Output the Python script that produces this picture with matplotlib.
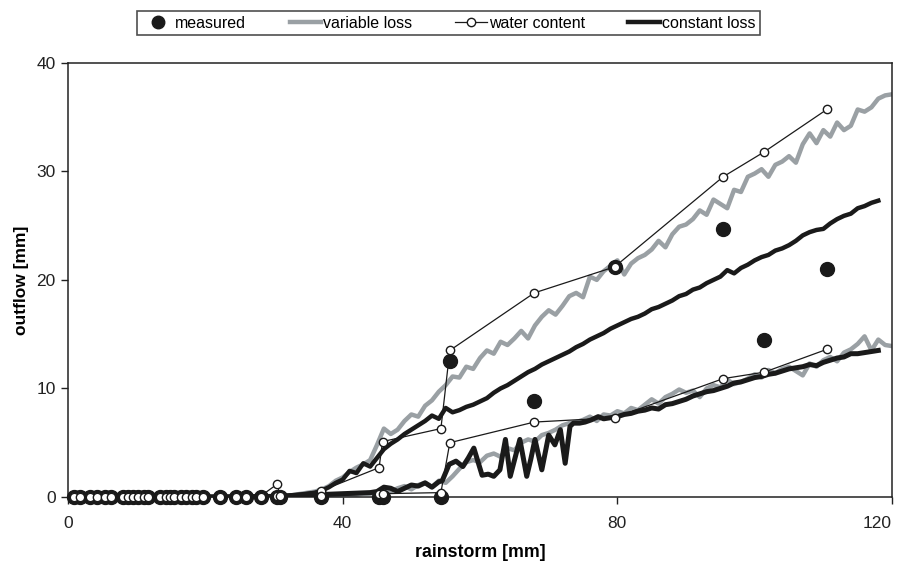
import numpy as np
import matplotlib
matplotlib.use("Agg")
import matplotlib.pyplot as plt
from matplotlib.lines import Line2D

plt.rcParams["font.family"] = ["Liberation Sans", "DejaVu Sans"]

# storms with zero measured outflow (rainstorm [mm])
rain_zero = [0.8, 1.8, 3.2, 4.2, 5.4, 6.3, 8.0, 8.8, 9.5, 10.2, 11.0, 11.7,
             13.4, 14.2, 14.8, 15.5, 16.5, 17.2, 18.0, 18.7, 19.7, 22.2,
             24.4, 25.9, 28.1, 30.5, 30.8, 36.8, 45.3, 45.8, 54.3]

# measured outflow for all storms
rain_meas = rain_zero + [55.6, 67.9, 79.6, 95.4, 101.4, 110.5]
out_meas = [0.0] * len(rain_zero) + [12.5, 8.8, 21.2, 24.7, 14.5, 21.0]

# water content estimates (two per storm)
rain_wc = [0.8, 1.8, 3.2, 4.2, 5.4, 6.3, 8.0, 8.8, 9.5, 10.2, 11.0, 11.7,
           13.4, 14.2, 14.8, 15.5, 16.5, 17.2, 18.0, 18.7, 19.7, 22.2,
           24.4, 25.9, 28.1, 30.5, 30.8, 36.8, 45.3, 45.8, 54.3, 55.6,
           67.9, 79.6, 95.4, 101.4, 110.5]
wc_high = [0.1] * 25 + [1.2, 0.2, 0.55, 2.7, 5.1, 6.3, 13.5,
                        18.8, 21.2, 29.5, 31.8, 35.7]
wc_low = [0.0] * 25 + [0.1, 0.1, 0.1, 0.3, 0.3, 0.4, 5.0,
                       6.9, 7.3, 10.9, 11.5, 13.6]

# simulated outflow, 1 mm steps
rain_sim = list(range(0, 121))
var_high = [0.0] * 31 + [
    0.1, 0.1, 0.2, 0.3, 0.4, 0.5, 0.7, 1.0, 1.5, 1.8,
    2.3, 2.7, 3.0, 3.4, 4.8, 6.3, 5.8, 6.2, 7.0, 7.6,
    7.4, 8.4, 8.9, 9.7, 10.3, 11.1, 11.0, 12.0, 11.8, 12.8,
    13.5, 13.2, 14.3, 14.0, 14.6, 15.3, 14.6, 15.8, 16.6, 17.2,
    16.8, 17.6, 18.5, 18.8, 18.4, 20.3, 20.0, 20.8, 21.3, 21.8,
    20.5, 21.5, 22.0, 22.3, 22.8, 23.6, 23.0, 24.2, 24.9, 25.1,
    25.6, 26.4, 26.0, 27.4, 27.0, 26.6, 28.3, 28.1, 29.5, 29.8,
    30.2, 29.5, 30.6, 30.9, 31.4, 30.8, 32.5, 33.5, 32.6, 33.8,
    33.2, 34.5, 33.8, 34.2, 35.7, 35.5, 35.9, 36.7, 37.0, 37.1]
var_low = [0.0] * 41 + [
    0.1, 0.2, 0.3, 0.3, 0.4, 0.6, 0.5, 0.8, 1.0, 0.7,
    1.1, 1.3, 0.9, 1.5, 1.3, 1.9, 2.6, 3.2, 3.4, 3.2,
    3.8, 4.0, 3.7, 4.5, 4.3, 5.0, 5.3, 5.1, 5.7, 5.9,
    6.2, 6.6, 6.8, 6.9, 7.1, 7.4, 7.0, 7.6, 7.5, 7.9,
    7.7, 8.2, 8.0, 8.5, 9.0, 8.6, 9.2, 9.5, 9.9, 9.6,
    9.8, 9.2, 10.0, 10.3, 10.1, 10.8, 10.4, 10.6, 10.9, 11.3,
    11.0, 11.7, 11.4, 11.8, 12.0, 11.6, 11.2, 12.3, 12.0, 12.6,
    12.9, 12.5, 13.3, 13.6, 14.1, 14.8, 13.5, 14.5, 14.0, 13.9]

rain_const = list(range(0, 119))
const_high = [0.0] * 31 + [
    0.05, 0.1, 0.15, 0.2, 0.3, 0.4, 0.6, 0.9, 1.3, 1.6,
    2.4, 2.2, 3.1, 2.8, 3.6, 4.4, 4.9, 5.3, 5.8, 6.2,
    6.6, 7.0, 7.5, 7.2, 8.2, 7.8, 8.0, 8.3, 8.5, 8.8,
    9.1, 9.6, 10.0, 10.3, 10.7, 11.1, 11.5, 11.8, 12.2, 12.5,
    12.8, 13.1, 13.4, 13.8, 14.1, 14.5, 14.8, 15.1, 15.5, 15.8,
    16.1, 16.4, 16.6, 16.9, 17.3, 17.5, 17.8, 18.1, 18.5, 18.7,
    19.1, 19.3, 19.7, 20.0, 20.3, 20.9, 20.6, 21.1, 21.4, 21.8,
    22.1, 22.3, 22.7, 22.9, 23.2, 23.6, 24.1, 24.4, 24.6, 24.7,
    25.2, 25.6, 25.9, 26.1, 26.6, 26.8, 27.1, 27.3]

# lower constant-loss run has a jagged stretch, so its own rain points
rain_const_low = [0, 10, 20, 30, 33, 36, 38, 40, 42, 44, 45, 46, 47, 48,
                  49, 50, 51, 52, 53, 54, 54.5, 55.5, 56.5, 57.5, 58.3,
                  59.1, 60.3, 61.2, 62.0, 62.9, 63.7, 64.4, 65.1, 65.8,
                  66.8, 67.4, 68.0, 69.0, 70.0, 70.9, 71.7, 72.4, 73.1,
                  73.6, 74.5, 75.3, 76.2, 77.2] + list(range(78, 119))
const_low = [0, 0, 0, 0.05, 0.1, 0.2, 0.25, 0.3, 0.35, 0.4, 0.5, 0.9, 0.8,
             0.5, 0.8, 1.1, 1.0, 1.3, 0.9, 1.4, 1.5, 3.0, 3.3, 2.8, 3.6,
             4.5, 2.0, 2.1, 1.9, 2.5, 5.3, 1.9, 3.6, 5.3, 1.9, 3.5, 5.3,
             2.5, 5.7, 4.8, 6.2, 3.1, 6.5, 6.8, 6.8, 6.9, 7.1, 7.4,
             7.2, 7.3, 7.4, 7.6, 7.7, 7.9, 8.0, 8.2, 8.1, 8.5, 8.6, 8.8,
             9.0, 9.3, 9.5, 9.7, 9.8, 10.0, 10.2, 10.5, 10.6, 10.8, 11.0,
             11.1, 11.3, 11.4, 11.6, 11.8, 11.9, 12.0, 12.2, 12.1, 12.4,
             12.6, 12.8, 12.9, 13.2, 13.2, 13.3, 13.4, 13.5]

GRAY = "#9aa0a4"
DARK = "#1a1a1a"

fig = plt.figure(figsize=(9.07, 5.66), dpi=100)
ax = fig.add_axes([0.075, 0.122, 0.9085, 0.767])

ax.plot(rain_sim, var_high, color=GRAY, lw=3.2, zorder=2)
ax.plot(rain_sim, var_low, color=GRAY, lw=3.2, zorder=2)
ax.plot(rain_const, const_high, color=DARK, lw=3.2, zorder=3)
ax.plot(rain_const_low, const_low, color=DARK, lw=3.6, zorder=3)

ax.plot(rain_meas, out_meas, "o", color=DARK, ms=10, clip_on=False, zorder=4)

ax.plot(rain_wc, wc_high, "-o", color=DARK, lw=0.9, ms=6, mfc="white",
        mec=DARK, mew=1.0, clip_on=False, zorder=5)
ax.plot(rain_wc, wc_low, "-o", color=DARK, lw=0.9, ms=6, mfc="white",
        mec=DARK, mew=1.0, clip_on=False, zorder=5)

ax.set_xlim(0, 120)
ax.set_ylim(0, 40)
ax.set_xticks([0, 40, 80, 120])
ax.set_yticks([0, 10, 20, 30, 40])
ax.tick_params(direction="out", length=5, width=1, labelsize=12.5,
               colors="#222222")
ax.tick_params(axis="x", pad=9)
ax.tick_params(axis="y", pad=4)
ax.get_xticklabels()[-1].set_horizontalalignment("right")
for s in ax.spines.values():
    s.set_linewidth(1.1)
    s.set_color("#222222")

ax.set_xlabel("rainstorm [mm]", fontsize=12.8, fontweight="bold", labelpad=9)
ax.set_ylabel("outflow [mm]", fontsize=12.5, fontweight="bold", labelpad=5)

handles = [
    Line2D([], [], ls="none", marker="o", color=DARK, ms=9),
    Line2D([], [], color=GRAY, lw=3.2),
    Line2D([], [], color=DARK, lw=0.9, marker="o", ms=6, mfc="white", mec=DARK),
    Line2D([], [], color=DARK, lw=3.2),
]
labels = ["measured", "variable loss", "water content", "constant loss"]
leg = fig.legend(handles, labels, loc="center", bbox_to_anchor=(0.4945, 0.959),
                 ncol=4, frameon=True, fancybox=False, fontsize=11.5,
                 handlelength=2.0, handletextpad=0.1, columnspacing=2.7,
                 borderpad=0.3, borderaxespad=0)
leg.get_frame().set_edgecolor("#222222")
leg.get_frame().set_linewidth(1.2)

fig.savefig("out.png", dpi=100)
